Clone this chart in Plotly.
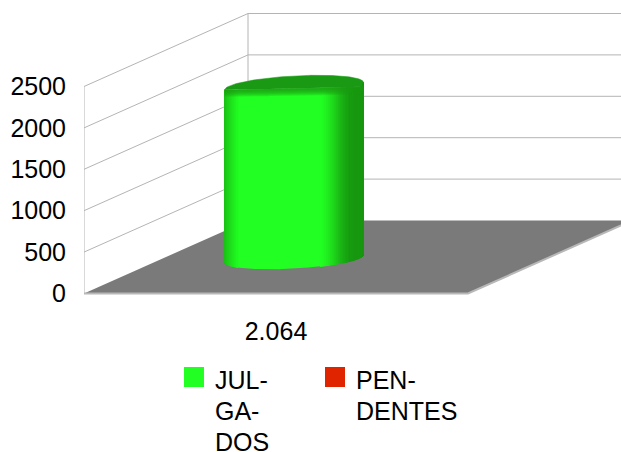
import math
import plotly.graph_objects as go

# ---- data ----
CATEGORIES = ["2.064"]
SERIES_LINES = [["JUL-", "GA-", "DOS"], ["PEN-", "DENTES"]]
JULGADOS = [2064]
PENDENTES = [0]
Y_TICKS = [0, 500, 1000, 1500, 2000, 2500]
SERIES_COLORS = ["#22ff22", "#e02400"]

W, H = 621, 452
L, BOTTOM_PX = 84, 297
PX_PER_U = 384
PX_PER_VALUE = 207 / 2500
DEPTH_X = 164 / PX_PER_U
DEPTH_Y = 73 / PX_PER_VALUE
Y_MAX = Y_TICKS[-1]
FLOOR_RIGHT = 1.0
FONT = dict(family="Liberation Sans", size=25, color="#000000")
GRID = "#b4b4b4"
ZERO_PX = 293.5


def proj(u, v, val):
    return u + DEPTH_X * v, val + DEPTH_Y * v


fig = go.Figure()


def poly(pts, fill=None, line=None, width=1):
    xs = [p[0] for p in pts]
    ys = [p[1] for p in pts]
    fig.add_trace(go.Scatter(
        x=xs, y=ys, mode="lines", hoverinfo="skip", showlegend=False,
        fill="toself" if fill else None, fillcolor=fill,
        line=dict(color=line or "rgba(0,0,0,0)", width=width if line else 0),
    ))


for t in Y_TICKS[1:]:
    poly([proj(0, 0, t), proj(0, 1, t), proj(1.5, 1, t)], line=GRID)
poly([proj(0, 0, 0), proj(0, 0, Y_MAX)], line=GRID)
poly([proj(0, 1, 0), proj(0, 1, Y_MAX)], line=GRID)

poly([proj(0, 0, 0), proj(0, 1, 0), proj(FLOOR_RIGHT, 1, 0), proj(FLOOR_RIGHT, 0, 0), proj(0, 0, 0)],
     fill="#7a7a7a")
poly([proj(0, 0, 0), proj(FLOOR_RIGHT, 0, 0), proj(FLOOR_RIGHT, 1, 0)], line="#b8b8b8", width=2)

RU, RV, VC = 65 / PX_PER_U, 10.8 / 73, 0.48
SERIES_U = [0.342, 0.654]
EDGE_LEFT_V, EDGE_RIGHT_V = -4.4 / 73, -0.9 / 73
BLEND_STEPS = 7
TOP_LIFT = 1.5 / PX_PER_VALUE  # drawn rim sits slightly above the value plane


def lerp_color(c1, c2, f):
    return "rgb(%d,%d,%d)" % tuple(round(a + (b - a) * f) for a, b in zip(c1, c2))


BRIGHT, DARK = (34, 255, 34), (24, 152, 16)


def shade(s):
    if s < -0.8:
        return lerp_color(DARK, BRIGHT, min(1, (s + 1) / 0.2 * 0.6 + 0.4))
    if s > 0.36:
        f = min(1, (s - 0.36) / 0.5)
        return lerp_color(BRIGHT, DARK, f * f * (3 - 2 * f))
    return lerp_color(BRIGHT, BRIGHT, 0)


for uc, val in zip(SERIES_U, [JULGADOS[0], PENDENTES[0]]):
    if val <= 0:
        continue
    t0 = math.atan2(DEPTH_X * RV, RU)
    N = 90
    xc = uc + DEPTH_X * VC
    half = RU * math.cos(t0) + DEPTH_X * RV * math.sin(t0)

    def rim(theta):
        a = t0 - math.pi + theta
        base = proj(uc + RU * math.cos(a), VC + RV * math.sin(a), 0)
        chord_v = RV * math.sin(t0) * (-math.cos(theta))
        flat_v = EDGE_LEFT_V + (EDGE_RIGHT_V - EDGE_LEFT_V) * theta / math.pi
        w = min(1, math.sin(theta) / 0.4) if 0 < theta < math.pi else 0
        w = w * (2 - w)
        edge_v = chord_v + (flat_v - chord_v) * w
        return base, (base[0], val + TOP_LIFT + DEPTH_Y * (VC + edge_v))

    rims = [rim(math.pi * i / N) for i in range(N + 1)]
    # top face: back half of the ellipse closed along the body's upper edge
    back = [proj(uc + RU * math.cos(t0 + math.pi * i / N), VC + RV * math.sin(t0 + math.pi * i / N), val + TOP_LIFT)
            for i in range(N + 1)]
    poly(back + [r[1] for r in rims] + [back[0]], fill="#1a9a14", line="#1a9a14", width=0.5)
    poly([r[0] for r in rims] + [r[1] for r in reversed(rims)] + [rims[0][0]], fill=lerp_color(BRIGHT, BRIGHT, 0))
    for i in range(N):
        (b1, t1), (b2, t2) = rims[i], rims[i + 1]
        s = ((b1[0] + b2[0]) / 2 - xc) / half
        if -0.8 <= s <= 0.36:
            continue
        col = shade(s)
        poly([b1, b2, t2, t1, b1], fill=col, line=col, width=1)
    for j in range(1, BLEND_STEPS + 1):
        drop = j / PX_PER_VALUE
        upper = [r[1] for r in rims]
        lower = [(p[0], p[1] - drop) for p in reversed(upper)]
        poly(upper + lower + [upper[0]], fill="rgba(26,154,20,0.22)")

SWATCH_X = [184, 325]
TEXT_X = [213.5, 354.5]
LINE_Y = [380, 411, 442]
for lines, color, sx, tx in zip(SERIES_LINES, SERIES_COLORS, SWATCH_X, TEXT_X):
    fig.add_shape(type="rect", xref="paper", yref="paper",
                  x0=(sx - L) / (W - L), x1=(sx + 20 - L) / (W - L),
                  y0=-(367 + 20 - BOTTOM_PX) / BOTTOM_PX, y1=-(367 - BOTTOM_PX) / BOTTOM_PX,
                  fillcolor=color, line_width=0)
    for line, ly in zip(lines, LINE_Y):
        fig.add_annotation(xref="paper", yref="paper", x=(tx - L) / (W - L), y=-(ly - BOTTOM_PX) / BOTTOM_PX,
                           xanchor="left", yanchor="middle", align="left", showarrow=False,
                           text=line, font=FONT, borderpad=0)

fig.update_layout(
    width=W, height=H, autosize=False, showlegend=False,
    paper_bgcolor="white", plot_bgcolor="white",
    margin=dict(l=L, r=0, t=0, b=H - BOTTOM_PX, pad=0),
    xaxis=dict(range=[0, (W - L) / PX_PER_U], showgrid=False, zeroline=False, showline=False,
               tickmode="array", tickvals=[0.5], ticktext=CATEGORIES,
               ticks="outside", ticklen=12, tickcolor="rgba(0,0,0,0)", tickfont=FONT),
    yaxis=dict(range=[-(BOTTOM_PX - ZERO_PX) / PX_PER_VALUE, ZERO_PX / PX_PER_VALUE],
               showgrid=False, zeroline=False, showline=False,
               tickmode="array", tickvals=Y_TICKS, ticks="outside", ticklen=12,
               tickcolor="rgba(0,0,0,0)", tickfont=FONT),
)
fig.write_html("out.html", config=dict(displayModeBar=False),
               post_script="document.body.style.margin='0';document.documentElement.style.overflow='hidden';")
